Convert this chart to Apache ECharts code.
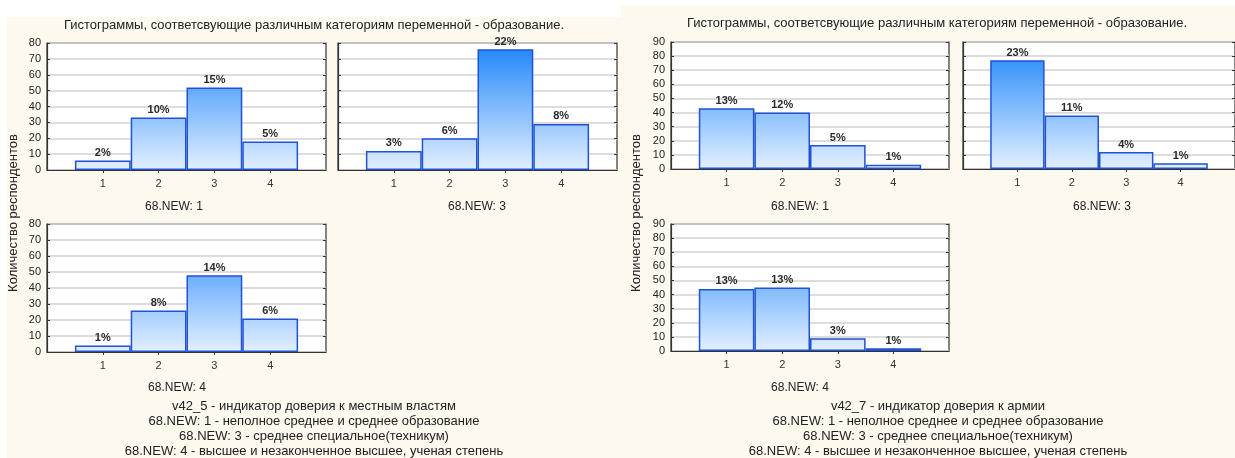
<!DOCTYPE html>
<html>
<head>
<meta charset="utf-8">
<script src="https://cdn.jsdelivr.net/npm/echarts@6/dist/echarts.min.js"></script>
<style>
  html, body { margin: 0; padding: 0; background: #ffffff; }
  #chart { width: 1235px; height: 458px; }
</style>
</head>
<body>
<div id="chart"></div>
<script>
// Education categories on the x axis (positions 0 and 5 are empty padding slots)
const categories = ['0', '1', '2', '3', '4', '5'];
const tickLabels = ['1', '2', '3', '4'];

// v42_5 — trust in local authorities, counts per trust level
const localEdu1 = [6, 33, 52, 18];
const localEdu1Pct = [2, 10, 15, 5];
const localEdu3 = [12, 20, 76, 29];
const localEdu3Pct = [3, 6, 22, 8];
const localEdu4 = [4, 26, 48, 21];
const localEdu4Pct = [1, 8, 14, 6];

// v42_7 — trust in the army, counts per trust level
const armyEdu1 = [43, 40, 17, 3];
const armyEdu1Pct = [13, 12, 5, 1];
const armyEdu3 = [77, 38, 12, 4];
const armyEdu3Pct = [23, 11, 4, 1];
const armyEdu4 = [44, 45, 9, 2];
const armyEdu4Pct = [13, 13, 3, 1];

const FONT = "'Liberation Sans', Arial, sans-serif";
const TXT = '#222222';

// panel layout: each small histogram gets its own grid
const panels = [
  { left: 47,  top: 43,  width: 279, height: 127, max: 80, values: localEdu1, pct: localEdu1Pct, yLabels: true },
  { left: 338, top: 43,  width: 279, height: 127, max: 80, values: localEdu3, pct: localEdu3Pct, yLabels: false },
  { left: 47,  top: 224, width: 279, height: 128, max: 80, values: localEdu4, pct: localEdu4Pct, yLabels: true },
  { left: 671, top: 42,  width: 278, height: 127, max: 90, values: armyEdu1, pct: armyEdu1Pct, yLabels: true },
  { left: 963, top: 42,  width: 278, height: 127, max: 90, values: armyEdu3, pct: armyEdu3Pct, yLabels: false },
  { left: 671, top: 224, width: 278, height: 127, max: 90, values: armyEdu4, pct: armyEdu4Pct, yLabels: true }
];

const inner = i => i >= 1 && i <= 4;

const grid = [], xAxis = [], yAxis = [], series = [];
panels.forEach((p, k) => {
  grid.push({
    left: p.left, top: p.top, width: p.width, height: p.height,
    show: true, backgroundColor: '#ffffff', borderColor: '#333333', borderWidth: 1.2
  });
  // bottom axis with labels
  xAxis.push({
    type: 'category', gridIndex: k, data: categories, boundaryGap: false, position: 'bottom',
    axisLine: { show: true, lineStyle: { color: '#333333', width: 1.2 } },
    axisTick: { show: true, inside: true, length: 3, interval: inner, lineStyle: { color: '#333333' } },
    axisLabel: {
      interval: inner, margin: 8, color: '#333333', fontSize: 11, fontFamily: FONT,
      formatter: (v, i) => tickLabels[i - 1] || ''
    },
    splitLine: { show: false }
  });
  // top edge ticks only
  xAxis.push({
    type: 'category', gridIndex: k, data: categories, boundaryGap: false, position: 'top',
    axisLine: { show: false },
    axisTick: { show: true, inside: true, length: 3, interval: inner, lineStyle: { color: '#333333' } },
    axisLabel: { show: false }, splitLine: { show: false }
  });
  yAxis.push({
    type: 'value', gridIndex: k, min: 0, max: p.max, interval: 10, position: 'left',
    axisLine: { show: true, lineStyle: { color: '#333333', width: 1.2 } },
    axisTick: { show: true, inside: true, length: 3, lineStyle: { color: '#333333' } },
    axisLabel: { show: p.yLabels, margin: 6, color: TXT, fontSize: 11, fontFamily: FONT },
    splitLine: { show: true, lineStyle: { color: '#d2d2d2', width: 1.5 } }
  });
  yAxis.push({
    type: 'value', gridIndex: k, min: 0, max: p.max, interval: 10, position: 'right',
    axisLine: { show: false },
    axisTick: { show: true, inside: true, length: 3, lineStyle: { color: '#333333' } },
    axisLabel: { show: false }, splitLine: { show: false }
  });
  const fill = new echarts.graphic.LinearGradient(0, p.top, 0, p.top + p.height, [
    { offset: 0, color: '#1a84fa' },
    { offset: 1, color: '#e4f0ff' }
  ], true);
  series.push({
    type: 'bar', xAxisIndex: 2 * k, yAxisIndex: 2 * k,
    data: ['-'].concat(p.values, ['-']),
    barWidth: '100%',
    itemStyle: { color: fill, borderColor: '#1f52d6', borderWidth: 1.5 },
    label: {
      show: true, position: 'top', distance: 2, color: '#2a2a2a', fontSize: 11,
      fontWeight: 'bold', fontFamily: FONT,
      formatter: prm => p.pct[prm.dataIndex - 1] + '%'
    },
    emphasis: { disabled: true },
    silent: true,
    animation: false
  });
});

const txt = (x, y, text, size, extra) => Object.assign({
  type: 'text', x: x, y: y, z: 10, silent: true,
  style: { text: text, fill: TXT, font: size + 'px ' + FONT, textAlign: 'center', textVerticalAlign: 'middle' }
}, extra || {});

const title = 'Гистограммы, соответсвующие различным категориям переменной - образование.';
const yName = 'Количество респондентов';

const graphic = [
  // cream panel backgrounds
  { type: 'rect', z: -10, silent: true, shape: { x: 7, y: 17, width: 614, height: 441 }, style: { fill: '#fdf9ef' } },
  { type: 'rect', z: -10, silent: true, shape: { x: 621, y: 6, width: 614, height: 452 }, style: { fill: '#fdf9ef' } },

  txt(314, 25, title, 13),
  txt(937, 23, title, 13),

  txt(13, 213, yName, 13, { rotation: Math.PI / 2 }),
  txt(636, 213, yName, 13, { rotation: Math.PI / 2 }),

  txt(174, 207, '68.NEW: 1', 12),
  txt(477, 207, '68.NEW: 3', 12),
  txt(177, 388, '68.NEW: 4', 12),
  txt(800, 207, '68.NEW: 1', 12),
  txt(1102, 207, '68.NEW: 3', 12),
  txt(800, 388, '68.NEW: 4', 12),

  txt(314, 406, 'v42_5 - индикатор доверия к местным властям', 13),
  txt(314, 421, '68.NEW: 1 - неполное среднее и среднее образование', 13),
  txt(314, 436.5, '68.NEW: 3 - среднее специальное(техникум)', 13),
  txt(314, 451, '68.NEW: 4 - высшее и незаконченное высшее, ученая степень', 13),

  txt(938, 406, 'v42_7 - индикатор доверия к армии', 13),
  txt(938, 421, '68.NEW: 1 - неполное среднее и среднее образование', 13),
  txt(938, 436.5, '68.NEW: 3 - среднее специальное(техникум)', 13),
  txt(938, 451, '68.NEW: 4 - высшее и незаконченное высшее, ученая степень', 13)
];

const chart = echarts.init(document.getElementById('chart'), null, { renderer: 'canvas' });
chart.setOption({
  animation: false,
  backgroundColor: '#ffffff',
  grid: grid,
  xAxis: xAxis,
  yAxis: yAxis,
  series: series,
  graphic: graphic
});
</script>
</body>
</html>
